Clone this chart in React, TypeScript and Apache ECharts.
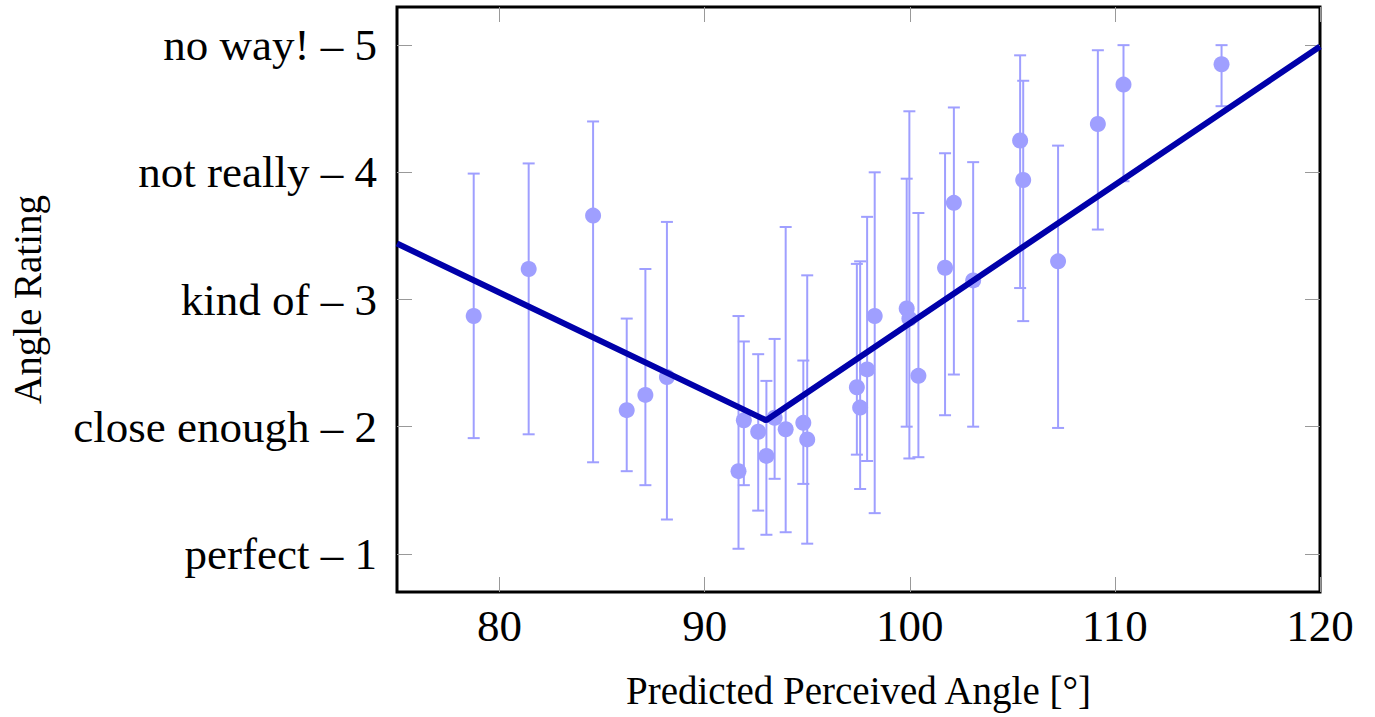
import React, { useEffect, useRef } from "react";
import * as echarts from "echarts";

// Data
const anglesX = [78.74, 81.42, 84.56, 86.2, 87.11, 88.16, 91.65, 91.91, 92.61, 93.01, 93.41, 93.95, 94.81, 95.0, 97.42, 97.58, 97.92, 98.29, 99.85, 99.98, 100.42, 101.72, 102.15, 103.09, 105.38, 105.53, 107.23, 109.17, 110.42, 115.2];
const meanRating = [2.87, 3.24, 3.66, 2.13, 2.25, 2.39, 1.65, 2.05, 1.96, 1.77, 2.07, 1.98, 2.03, 1.9, 2.31, 2.15, 2.45, 2.87, 2.93, 2.85, 2.4, 3.25, 3.76, 3.15, 4.25, 3.94, 3.3, 4.38, 4.69, 4.85];
const upperRating = [3.99, 4.07, 4.4, 2.85, 3.24, 3.61, 2.87, 2.67, 2.57, 2.36, 2.69, 3.57, 2.52, 3.19, 3.28, 3.3, 3.65, 4.0, 3.95, 4.48, 3.68, 4.15, 4.51, 4.08, 4.92, 4.72, 4.21, 4.96, 5.0, 5.0];
const lowerRating = [1.91, 1.94, 1.72, 1.65, 1.54, 1.27, 1.04, 1.54, 1.34, 1.15, 1.59, 1.17, 1.55, 1.08, 1.78, 1.51, 1.73, 1.32, 2.0, 1.75, 1.76, 2.09, 2.41, 2.0, 3.09, 2.83, 1.99, 3.55, 3.93, 4.52];

const fitX = [75, 93, 120];
const fitY = [3.44, 2.05, 4.99];

const xTicks = [80, 90, 100, 110, 120];
const yTicks = [1, 2, 3, 4, 5];
const yTickLabels = ["perfect", "close enough", "kind of", "not really", "no way!"];

const FONT = "'Liberation Serif', 'Times New Roman', serif";
const POINT_COLOR = "#9f9fff";
const LINE_COLOR = "#0000aa";

export default function App() {
  const ref = useRef<HTMLDivElement>(null);

  useEffect(() => {
    if (!ref.current) return;
    const chart = echarts.init(ref.current, undefined, { renderer: "svg" });

    const errData = anglesX.map((x, i) => [x, lowerRating[i], upperRating[i]]);
    const ptData = anglesX.map((x, i) => [x, meanRating[i]]);
    const fitData = fitX.map((x, i) => [x, fitY[i]]);

    const tickStyle = { color: "#999", width: 1 };

    chart.setOption({
      animation: false,
      backgroundColor: "#fff",
      grid: {
        left: 396,
        top: 7,
        width: 924,
        height: 585,
        show: true,
        borderColor: "#000",
        borderWidth: 3,
        backgroundColor: "transparent",
      },
      xAxis: [
        {
          type: "value",
          min: 75,
          max: 120,
          position: "bottom",
          axisLine: { show: false },
          splitLine: { show: false },
          axisTick: { show: true, inside: true, length: 15, lineStyle: tickStyle, customValues: xTicks },
          axisLabel: {
            customValues: xTicks,
            fontSize: 45,
            lineHeight: 46,
            fontFamily: FONT,
            color: "#000",
            margin: 11,
          },
          name: "Predicted Perceived Angle [°]",
          nameLocation: "middle",
          nameGap: 79,
          nameTextStyle: { fontSize: 39, lineHeight: 39, fontFamily: FONT, color: "#000" },
        },
        {
          type: "value",
          min: 75,
          max: 120,
          position: "top",
          axisLine: { show: false },
          splitLine: { show: false },
          axisTick: { show: true, inside: true, length: 15, lineStyle: tickStyle, customValues: xTicks },
          axisLabel: { show: false },
        },
      ],
      yAxis: [
        {
          type: "value",
          min: 0.7,
          max: 5.3,
          position: "left",
          axisLine: { show: false },
          splitLine: { show: false },
          axisTick: { show: true, inside: true, length: 15, lineStyle: tickStyle, customValues: yTicks },
          axisLabel: {
            customValues: yTicks,
            fontSize: 45,
            fontFamily: FONT,
            color: "#000",
            margin: 20,
            formatter: (v: number) => `${yTickLabels[Math.round(v) - 1]} – ${Math.round(v)}`,
          },
          name: "Angle Rating",
          nameLocation: "middle",
          nameGap: 350,
          nameTextStyle: { fontSize: 39, lineHeight: 39, fontFamily: FONT, color: "#000" },
        },
        {
          type: "value",
          min: 0.7,
          max: 5.3,
          position: "right",
          axisLine: { show: false },
          splitLine: { show: false },
          axisTick: { show: true, inside: true, length: 15, lineStyle: tickStyle, customValues: yTicks },
          axisLabel: { show: false },
        },
      ],
      series: [
        {
          type: "custom",
          xAxisIndex: 0,
          yAxisIndex: 0,
          z: 2,
          encode: { x: 0, y: [1, 2] },
          data: errData,
          renderItem: (params: any, api: any) => {
            const x = api.value(0);
            const lo = api.coord([x, api.value(1)]);
            const hi = api.coord([x, api.value(2)]);
            const half = 6;
            const style = { stroke: POINT_COLOR, lineWidth: 2, fill: "none" };
            return {
              type: "group",
              children: [
                { type: "line", shape: { x1: lo[0], y1: lo[1], x2: hi[0], y2: hi[1] }, style },
                { type: "line", shape: { x1: hi[0] - half, y1: hi[1], x2: hi[0] + half, y2: hi[1] }, style },
                { type: "line", shape: { x1: lo[0] - half, y1: lo[1], x2: lo[0] + half, y2: lo[1] }, style },
              ],
            };
          },
        },
        {
          type: "scatter",
          xAxisIndex: 0,
          yAxisIndex: 0,
          z: 3,
          symbol: "circle",
          symbolSize: 16,
          itemStyle: { color: POINT_COLOR, opacity: 1 },
          data: ptData,
        },
        {
          type: "line",
          xAxisIndex: 0,
          yAxisIndex: 0,
          z: 4,
          showSymbol: false,
          symbol: "none",
          lineStyle: { color: LINE_COLOR, width: 6 },
          data: fitData,
        },
      ],
    });

    return () => {
      chart.dispose();
    };
  }, []);

  return (
    <div
      ref={ref}
      style={{ position: "absolute", left: 0, top: 0, width: 1375, height: 717, background: "#fff" }}
    />
  );
}
